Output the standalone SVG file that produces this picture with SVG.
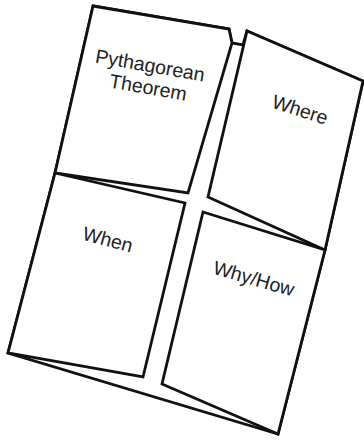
<svg xmlns="http://www.w3.org/2000/svg" width="364" height="440" viewBox="0 0 364 440">
<style>
.edge{fill:#fff;stroke:#111;stroke-width:2.8;stroke-linejoin:miter}
.lbl{font-family:"Liberation Sans",Arial,sans-serif;font-size:19.5px;fill:#222;text-anchor:middle}
</style>
<rect width="364" height="440" fill="#fff"/>
<g id="connectors">
<polygon class="edge" points="93,6 229,29 232,43 243,45 247,31 363,81 325,250 278,434 8,353 55,173"/>
</g>
<g id="flap-top-left">
<polygon class="edge" points="93,6 229,29 232,43 188,193 55,173"/>
<text class="lbl" transform="translate(149,72) rotate(10)">Pythagorean</text>
<text class="lbl" transform="translate(147,94) rotate(10)">Theorem</text>
</g>
<g id="flap-top-right">
<polygon class="edge" points="247,31 363,81 325,250 208,197"/>
<text class="lbl" transform="translate(298,116) rotate(18)">Where</text>
</g>
<g id="flap-bottom-left">
<polygon class="edge" points="55,173 185,203 143,377 8,353"/>
<text class="lbl" transform="translate(106,246) rotate(15)">When</text>
</g>
<g id="flap-bottom-right">
<polygon class="edge" points="203,212 325,250 278,434 162,384"/>
<text class="lbl" transform="translate(252,285) rotate(16)">Why/How</text>
</g>
</svg>
